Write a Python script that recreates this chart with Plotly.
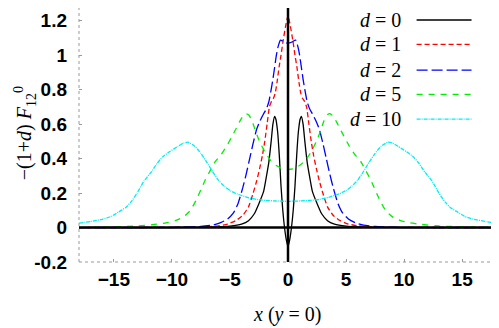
import plotly.graph_objects as go

# curves are symmetric in x; values read for x >= 0 and mirrored below
x_d0 = [0, 0.15, 0.3, 0.45, 0.6, 0.75, 0.9, 1.05, 1.15, 1.3, 1.45, 1.65, 1.85, 2.1, 2.5,
        2.9, 3.4, 4.0, 5.0, 6.0, 8.0, 10.0, 18.0]
y_d0 = [-0.11, -0.07, 0.0, 0.1, 0.24, 0.42, 0.56, 0.63, 0.645, 0.6, 0.5, 0.38, 0.3, 0.21, 0.14,
        0.08, 0.04, 0.02, 0.008, 0.003, 0.001, 0.0, 0.0]

x_d1 = [0, 0.2, 0.43, 0.6, 0.77, 0.95, 1.1, 1.25, 1.4, 1.6, 1.8, 2.0, 2.2, 2.45, 2.7, 3.0,
        3.4, 3.9, 4.5, 5.2, 6.0, 7.0, 8.5, 10.0, 18.0]
y_d1 = [1.23, 1.17, 1.08, 1.0, 0.93, 0.84, 0.78, 0.75, 0.735, 0.7, 0.6, 0.5, 0.42, 0.34, 0.27, 0.2,
        0.12, 0.07, 0.04, 0.02, 0.01, 0.004, 0.001, 0.0005, 0.0]

x_d2 = [0, 0.3, 0.65, 0.85, 1.0, 1.15, 1.3, 1.45, 1.65, 1.85, 2.1, 2.4, 2.7, 3.0, 3.3, 3.6,
        3.9, 4.3, 4.7, 5.2, 5.8, 6.5, 7.5, 9.0, 11.0, 18.0]
y_d2 = [1.07, 1.075, 1.088, 1.05, 1.0, 0.93, 0.86, 0.8, 0.73, 0.69, 0.66, 0.62, 0.57, 0.49, 0.4, 0.31,
        0.23, 0.14, 0.085, 0.05, 0.028, 0.014, 0.006, 0.002, 0.0005, 0.0]

x_d5 = [0, 0.5, 1.0, 1.5, 2.0, 2.45, 2.8, 3.1, 3.4, 3.65, 3.9, 4.2, 4.5, 4.9, 5.3, 5.8, 6.3,
        6.7, 7.1, 7.5, 7.9, 8.4, 9.0, 9.7, 10.5, 11.5, 13.0, 15.0, 18.0]
y_d5 = [0.338, 0.342, 0.36, 0.39, 0.44, 0.5, 0.56, 0.62, 0.655, 0.66, 0.645, 0.61, 0.57, 0.52, 0.47,
        0.42, 0.38, 0.33, 0.28, 0.22, 0.16, 0.1, 0.062, 0.04, 0.027, 0.018, 0.009, 0.004, 0.001]

x_d10 = [0, 1.0, 2.0, 2.7, 3.5, 4.4, 5.0, 5.5, 6.0, 6.5, 7.0, 7.5, 8.0, 8.6, 9.0, 9.5, 10.2,
         10.8, 11.3, 11.8, 12.4, 13.0, 13.5, 14.0, 14.6, 15.2, 16.0, 17.0, 18.0]
y_d10 = [0.152, 0.154, 0.158, 0.163, 0.175, 0.195, 0.215, 0.24, 0.275, 0.325, 0.38, 0.43, 0.47,
         0.495, 0.49, 0.47, 0.44, 0.41, 0.37, 0.32, 0.27, 0.2, 0.15, 0.115, 0.09, 0.065, 0.048,
         0.035, 0.025]

labels = ["0", "1", "2", "5", "10"]
colors = ["#000000", "#ff0000", "#0000ff", "#00ee00", "#00eeee"]
dashes = ["solid", "5px,3px", "11px,4px", "6px,6px", "4px,1px,1px,1px"]

x_ticks = [-15, -10, -5, 0, 5, 10, 15]
y_ticks = [-0.2, 0, 0.2, 0.4, 0.6, 0.8, 1, 1.2]
y_ticktext = ["-0.2", "0", "0.2", "0.4", "0.6", "0.8", "1", "1.2"]


def mirror(xs, ys):
    return [-v for v in xs[::-1]] + xs[1:], ys[::-1] + ys[1:]


# page has an 8px body margin, so the figure is made 8px smaller and
# everything below is measured in page pixels
OFF = 8
W, H = 499 - OFF, 328 - OFF
L, R, T, B = 79, 497.5, OFF, 261.7      # plot area in page pixels
Y_PER_PX = 1.4 / 241.0                   # 1.2 at y=20.7, -0.2 at y=261.7
y_top = -0.2 + (B - T) * Y_PER_PX


def px(x):
    return (x - L) / (R - L)


def py(y):
    return (B - y) / (B - T)


fig = go.Figure()
series = [(x_d0, y_d0), (x_d1, y_d1), (x_d2, y_d2), (x_d5, y_d5), (x_d10, y_d10)]
for (xs, ys), lab, col, dash in zip(series, labels, colors, dashes):
    fx, fy = mirror(xs, ys)
    fig.add_trace(go.Scatter(x=fx, y=fy, mode="lines", name="d = " + lab, showlegend=False,
                             line=dict(color=col, width=1.3, dash=dash, shape="spline", smoothing=0.5)))

serif = dict(family="Liberation Serif, Times New Roman, serif", size=20, color="black")
sans = dict(family="Liberation Sans, Arial, sans-serif", size=19, color="black", weight="bold")

# key: text to the left of the line sample, like gnuplot
rows = [20, 44.3, 70, 94.3, 119]
for lab, col, dash, ry in zip(labels, colors, dashes, rows):
    fig.add_annotation(x=px(403), y=py(ry), xref="paper", yref="paper", xanchor="right",
                       yanchor="middle", text="<i>d</i> = " + lab, showarrow=False, font=serif)
    fig.add_shape(type="line", xref="paper", yref="paper", x0=px(417), x1=px(472),
                  y0=py(ry), y1=py(ry), line=dict(color=col, width=1.3, dash=dash))

# zero axes on top of the curves
fig.add_shape(type="line", xref="paper", yref="y", x0=0, x1=1, y0=0, y1=0,
              line=dict(color="black", width=2.5), layer="above")
fig.add_shape(type="line", xref="x", yref="paper", x0=0, x1=0, y0=0, y1=1,
              line=dict(color="black", width=2.5), layer="above")
# dotted border left and bottom
fig.add_shape(type="line", xref="paper", yref="paper", x0=0, x1=0, y0=0, y1=1,
              line=dict(color="#999", width=1, dash="dot"))
fig.add_shape(type="line", xref="paper", yref="paper", x0=0, x1=1, y0=0, y1=0,
              line=dict(color="#999", width=1, dash="dot"))

fig.add_annotation(x=px(25), y=py(133), xref="paper", yref="paper", textangle=-90,
                   text="\u2212(1+<i>d</i>) <i>F</i><sub>12</sub><sup>0</sup>",
                   showarrow=False, font=serif, xanchor="center", yanchor="middle")
fig.add_annotation(x=px(287), y=py(314), xref="paper", yref="paper",
                   text="<i>x</i> (<i>y</i> = 0)", showarrow=False, font=serif,
                   xanchor="center", yanchor="middle")

fig.update_xaxes(range=[-18, 18], tickvals=x_ticks, showgrid=False, zeroline=False,
                 ticks="inside", ticklen=3, tickcolor="#999", tickfont=sans,
                 ticklabelstandoff=4, showline=False)
fig.update_yaxes(range=[-0.2, y_top], tickvals=y_ticks, ticktext=y_ticktext, showgrid=False,
                 zeroline=False, ticks="inside", ticklen=3, tickcolor="#999", tickfont=sans,
                 ticklabelstandoff=11, showline=False)

fig.update_layout(width=W, height=H, plot_bgcolor="white", paper_bgcolor="white",
                  margin=dict(l=L - OFF, r=W - (R - OFF), t=T - OFF, b=H - (B - OFF)),
                  showlegend=False)

fig.write_html("out.html")
